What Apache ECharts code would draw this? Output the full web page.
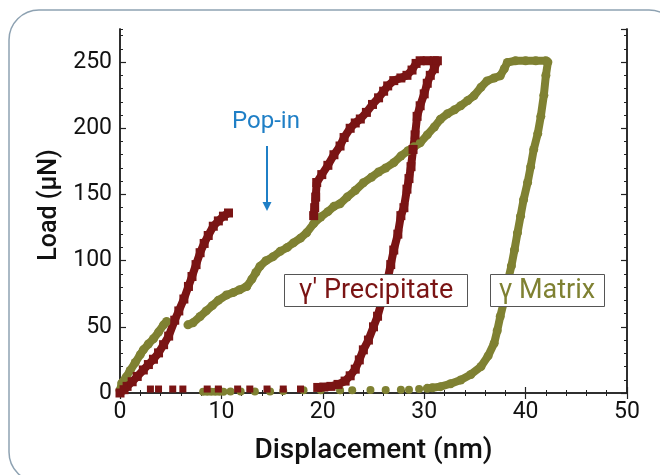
<!DOCTYPE html>
<html>
<head>
<meta charset="utf-8">
<script src="https://cdn.jsdelivr.net/npm/echarts@6/dist/echarts.min.js"></script>
<style>
  html, body { margin: 0; padding: 0; background: #fff; }
  #chart { width: 660px; height: 475px; }
</style>
</head>
<body>
<div id="chart"></div>
<script>
// gamma' precipitate (red squares), [displacement nm, load uN]
var redLoad1 = [[0,0],[0.4,2.5],[0.7,5],[1.2,8.5],[1.7,12.5],[2.3,17.4],[2.8,21.5],[3.3,25.5],[3.8,30.3],
  [4.3,36.5],[4.8,43],[5.4,55],[5.8,62],[6.3,71],[6.75,80.5],[7.1,88],[7.5,97],[7.9,106],[8.3,113],
  [8.7,119],[9.2,126],[9.7,130],[10.2,133.6],[10.7,136]];
var redLoad2 = [[19.1,134],[19.2,140],[19.3,148],[19.4,159],[19.9,165],[20.5,172],[21.1,180],[21.7,186.6],
  [22.1,193],[22.7,200],[23.2,204],[23.7,207],[24.3,212],[24.9,218],[25.5,223],[26.0,228],[26.4,232],
  [27.0,236],[27.7,238],[28.3,240],[28.8,244],[29.2,249],[29.6,251],[30.3,251],[31.0,251],[31.3,251],
  [31.0,245],[30.6,240],[30.3,234],[30.0,226],[29.6,217],[29.3,209],[29.1,195],[28.9,184],[28.7,171],
  [28.5,162],[28.3,154],[28.0,140],[27.7,134],[27.4,120],[27.0,108],[26.7,97],[26.4,86],[26.0,74],
  [25.4,58],[25.0,50],[24.5,40],[24.0,32.6],[23.6,25],[23.2,18],[22.7,13],[22.2,9],[21.5,6.5],
  [20.8,5],[20.1,4.5],[19.5,4.2]];
var redTail = [[3.0,3],[3.8,3],[5.2,3],[6.2,3],[8.6,3],[9.7,3],[11.6,3],[12.8,3],[14.5,3],[16.1,3],[17.8,3]];

// gamma matrix (olive circles)
var oliveLoad1 = [[0,2],[0.17,7.5],[0.6,12],[1.0,17],[1.5,23],[2.0,29],[2.3,32.6],[2.8,37],[3.3,41],
  [3.8,46],[4.3,51.5],[4.6,54]];
var oliveLoad2 = [[6.7,51.5],[7.2,53],[7.9,57.8],[8.5,62],[9.1,66],[9.7,70],[10.5,74],[11.2,76],[11.8,78],
  [12.5,80.5],[13.0,86],[13.4,91],[13.8,95.7],[14.4,100],[15.1,103],[15.8,107],[16.5,110],[17.1,113.4],
  [17.8,117],[18.4,121],[19.1,128],[19.8,133],[20.5,137],[21.1,141],[21.7,143],[22.4,148],[23.2,153],
  [24.0,158.8],[24.8,163],[25.5,167],[26.2,170],[27.0,174],[27.7,179],[28.4,183],[29.0,186],[29.6,189],
  [30.3,195],[31.0,201],[31.6,206.8],[32.3,211],[33.0,214],[33.6,217],[34.3,221],[34.9,224.5],[35.6,231],
  [36.2,235.8],[36.9,238],[37.5,239.6],[37.9,245],[38.2,249.7],[39.0,251],[40.0,251],[41.0,251],[42.0,251],
  [42.2,250],[42.0,240],[41.8,225],[41.5,209],[41.2,196],[40.8,184],[40.5,171],[40.2,159],[39.8,146],
  [39.5,133.6],[39.2,121],[38.9,108],[38.6,96],[38.2,83],[37.9,70],[37.5,57.8],[37.2,47],[36.9,37.6],
  [36.3,28],[35.6,20],[34.6,14],[33.6,9.8],[32.6,7],[31.6,4.8],[30.8,4],[30.3,3.5]];
var oliveTail = [[8.2,1],[8.6,1],[9.0,1],[9.4,1],[9.8,1],[10.2,1],[10.9,1.2],[11.9,1.2],[13.3,1.2],
  [14.8,1.2],[16.1,1.5],[18.1,2],[19.8,2],[21.7,2],[22.9,2],[24.7,2.2],[26.2,2.3],[27.7,2.5],[28.5,2.5],[29.5,3]];

var xTicks = [0, 10, 20, 30, 40, 50];
var yTicks = [0, 50, 100, 150, 200, 250];

var RED = '#7a1414';
var OLIVE = '#7f8132';
var FONT = 'Roboto, "Liberation Sans", sans-serif';

function curve(data, color, symbol, size) {
    return {
        type: 'line', data: data, xAxisIndex: 0, yAxisIndex: 0,
        symbol: symbol, symbolSize: size, showSymbol: true, animation: false,
        lineStyle: {color: color, width: 8},
        itemStyle: {color: color}
    };
}
function dots(data, color, symbol, size) {
    return {
        type: 'scatter', data: data, xAxisIndex: 0, yAxisIndex: 0,
        symbol: symbol, symbolSize: size, animation: false,
        itemStyle: {color: color, opacity: 1}
    };
}

var axisLine = {show: true, lineStyle: {color: '#222', width: 1.5}};
function xAx(pos, label) {
    return {
        type: 'value', position: pos, min: 0, max: 50, interval: 10,
        axisLine: axisLine, splitLine: {show: false},
        axisTick: {inside: true, length: 6, lineStyle: {color: '#222', width: 1.2}},
        minorTick: {show: true, splitNumber: 5, length: 3, lineStyle: {color: '#222', width: 1}},
        axisLabel: {show: label, color: '#111', fontSize: 23, fontFamily: FONT, margin: 8},
        name: label ? 'Displacement (nm)' : '', nameLocation: 'middle', nameGap: 44,
        nameTextStyle: {color: '#111', fontSize: 28, fontWeight: 500, fontFamily: FONT}
    };
}
function yAx(pos, step, len, label) {
    return {
        type: 'value', position: pos, min: 0, max: 275, interval: step,
        axisLine: axisLine, splitLine: {show: false},
        axisTick: {inside: true, length: len, lineStyle: {color: '#222', width: len > 4 ? 1.2 : 1}},
        axisLabel: {show: label, showMaxLabel: false, color: '#111', fontSize: 23, fontFamily: FONT, margin: 8},
        name: label ? 'Load (\u03bcN)' : '', nameLocation: 'middle', nameGap: 58, nameRotate: 90,
        nameTextStyle: {color: '#111', fontSize: 25, fontWeight: 500, fontFamily: FONT, padding: [0, 0, 0, 12]}
    };
}

var chart = echarts.init(document.getElementById('chart'), null, {renderer: 'canvas'});
chart.setOption({
    backgroundColor: '#fff',
    animation: false,
    grid: {left: 120, right: 33, top: 29, bottom: 82, outerBoundsMode: 'none'},
    xAxis: [xAx('bottom', true), xAx('top', false)],
    yAxis: [yAx('left', 50, 6, true), yAx('left', 10, 3, false), yAx('right', 50, 6, false), yAx('right', 10, 3, false)],
    series: [
        dots(oliveTail, OLIVE, 'circle', 8),
        dots(redTail, RED, 'rect', 7),
        curve(oliveLoad1, OLIVE, 'circle', 9),
        curve(oliveLoad2, OLIVE, 'circle', 9),
        curve(redLoad1, RED, 'rect', 9),
        curve(redLoad2, RED, 'rect', 9)
    ],
    graphic: [
        {type: 'rect', shape: {x: 9, y: 10, width: 670, height: 472, r: 30}, silent: true,
         style: {fill: null, stroke: '#8ea2b2', lineWidth: 1.5}},
        {type: 'text', x: 266, y: 122, style: {text: 'Pop-in', fill: '#1f7fc6', font: '400 24px ' + FONT,
         textAlign: 'center', textVerticalAlign: 'middle'}},
        {type: 'line', shape: {x1: 267, y1: 146, x2: 267, y2: 205}, style: {stroke: '#1f7fc6', lineWidth: 2}},
        {type: 'polygon', shape: {points: [[262.5, 202], [271.5, 202], [267, 211]]}, style: {fill: '#1f7fc6'}},
        {type: 'rect', shape: {x: 284.5, y: 274.5, width: 183, height: 32}, z: 10,
         style: {fill: '#fff', stroke: '#555', lineWidth: 1}},
        {type: 'text', x: 376, y: 291, z: 11, style: {text: '\u03b3\u2032 Precipitate', fill: RED,
         font: '400 27px ' + FONT, textAlign: 'center', textVerticalAlign: 'middle'}},
        {type: 'rect', shape: {x: 490.5, y: 274.5, width: 114, height: 32}, z: 10,
         style: {fill: '#fff', stroke: '#555', lineWidth: 1}},
        {type: 'text', x: 547, y: 291, z: 11, style: {text: '\u03b3 Matrix', fill: OLIVE,
         font: '400 27px ' + FONT, textAlign: 'center', textVerticalAlign: 'middle'}}
    ]
});
</script>
</body>
</html>
